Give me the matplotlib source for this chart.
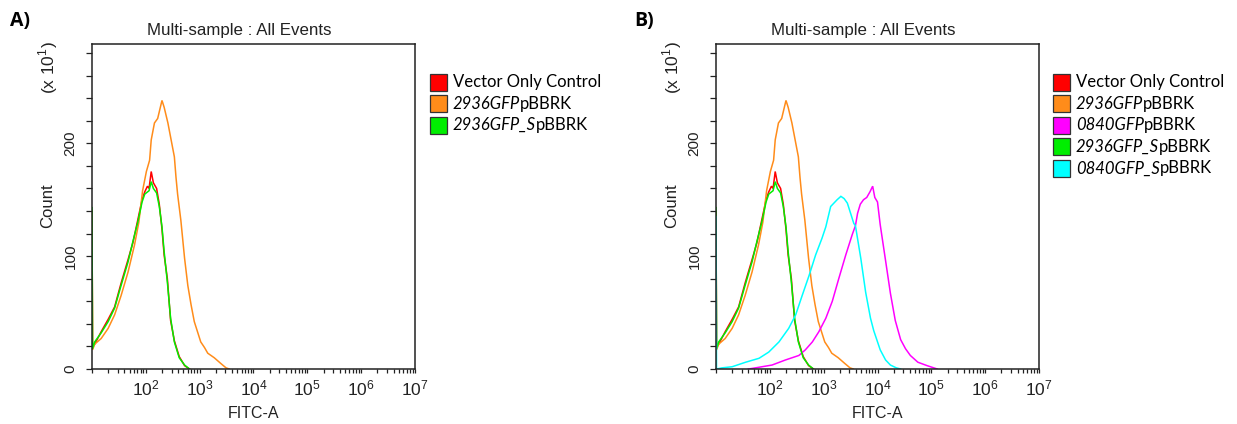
import numpy as np
import matplotlib
matplotlib.use("Agg")
import matplotlib.pyplot as plt
from matplotlib.ticker import FixedLocator, FuncFormatter
from matplotlib.patches import Rectangle

# ---- histogram data: log10(FITC-A) channel position and count (x10) ----
vector_logx = [1.0, 1.01, 1.05, 1.17, 1.30, 1.42, 1.54, 1.67, 1.76, 1.85, 1.93, 1.98,
               2.03, 2.06, 2.10, 2.14, 2.20, 2.25, 2.30, 2.34, 2.40, 2.46, 2.53,
               2.62, 2.72, 2.81]
vector_count = [140, 19, 22, 33, 44, 55, 76, 97, 112, 132, 150, 157,
                162, 160, 175, 165, 160, 146, 124, 101, 80, 43, 25,
                11, 3, 0]

p2936_logx = [1.0, 1.01, 1.05, 1.17, 1.30, 1.42, 1.54, 1.67, 1.79, 1.87, 1.94, 2.01,
              2.07, 2.10, 2.16, 2.22, 2.26, 2.30, 2.34, 2.41, 2.47, 2.53, 2.56,
              2.59, 2.65, 2.72, 2.78, 2.84, 2.90, 2.96, 3.02, 3.09, 3.15, 3.27,
              3.39, 3.49, 3.55]
p2936_count = [138, 17, 22, 27, 36, 48, 65, 86, 110, 130, 158, 175,
               185, 203, 218, 222, 230, 238, 232, 218, 203, 188, 170,
               155, 132, 98, 74, 57, 42, 33, 24, 19, 14, 10,
               5, 1, 0]

p0840_logx = [1.60, 1.67, 2.04, 2.29, 2.54, 2.66, 2.79, 2.91, 3.04, 3.16, 3.28, 3.41,
              3.53, 3.59, 3.63, 3.68, 3.74, 3.80, 3.86, 3.91, 3.95, 4.00, 4.05,
              4.15, 4.24, 4.33, 4.43, 4.52, 4.61, 4.75, 4.92, 5.11]
p0840_count = [0, 0.5, 3.5, 8, 12, 17, 24, 33, 45, 60, 80, 101,
               119, 127, 138, 146, 150, 152, 157, 162, 152, 148, 128,
               96, 67, 43, 26, 18, 12, 6, 3, 0]

s2936_logx = [1.0, 1.01, 1.05, 1.17, 1.30, 1.42, 1.54, 1.67, 1.76, 1.85, 1.93, 1.98,
              2.06, 2.10, 2.14, 2.20, 2.25, 2.30, 2.34, 2.40, 2.46, 2.53, 2.62,
              2.72, 2.81]
s2936_count = [143, 18, 24, 32, 42, 54, 74, 95, 113, 130, 148, 155,
               158, 166, 160, 156, 144, 126, 104, 77, 45, 24, 10,
               3.5, 0]

s0840_logx = [1.0, 1.01, 1.11, 1.30, 1.55, 1.80, 1.98, 2.17, 2.35, 2.48, 2.60, 2.73,
              2.85, 2.97, 3.04, 3.13, 3.25, 3.32, 3.38, 3.44, 3.50, 3.56, 3.59,
              3.69, 3.78, 3.87, 3.93, 4.05, 4.15, 4.24, 4.35, 4.43]
s0840_count = [135, 0, 1, 2, 6, 9.5, 15, 24, 36, 48, 65, 83,
               101, 116, 126, 144, 150, 153, 151, 147, 138, 129, 127,
               98, 68, 45, 34, 17, 8, 3.5, 1, 0]

# legend entries: (italic part, regular part)
names = {
    "vector": ("", "Vector Only Control"),
    "p2936": ("2936GFP", "pBBRK"),
    "p0840": ("0840GFP", "pBBRK"),
    "s2936": ("2936GFP_S", "pBBRK"),
    "s0840": ("0840GFP_S", "pBBRK"),
}
colors = {
    "vector": "#ff0000",
    "p2936": "#ff8c1a",
    "p0840": "#ff00ff",
    "s2936": "#00ee00",
    "s0840": "#00ffff",
}
series = {
    "vector": (vector_logx, vector_count),
    "p2936": (p2936_logx, p2936_count),
    "p0840": (p0840_logx, p0840_count),
    "s2936": (s2936_logx, s2936_count),
    "s0840": (s0840_logx, s0840_count),
}

y_major = [0, 100, 200]
y_minor = list(range(0, 281, 20))
x_decades = [1, 2, 3, 4, 5, 6, 7]

W, H = 1237, 424
fig = plt.figure(figsize=(W / 100, H / 100), dpi=100)
AXFONT = "Liberation Sans"
LEGFONT = "Lato"
plt.rcParams["font.family"] = AXFONT
TXT = "#222222"


def fx(px):
    return px / W


def fy(py):
    return 1 - py / H


def decade_label(v, pos):
    e = int(round(np.log10(v)))
    if e <= 1:
        return ""
    return r"$\mathdefault{10^{%d}}$" % e


def keys_legend_order(keys):
    order = ["vector", "p2936", "p0840", "s2936", "s0840"]
    return [k for k in order if k in keys]


def make_panel(left_px, keys, letter, legend_x):
    right_px = left_px + 323
    top_px, bot_px = 44, 369
    ax = fig.add_axes([fx(left_px), fy(bot_px), fx(right_px - left_px),
                       (bot_px - top_px) / H])
    for k in keys:
        lx, c = series[k]
        ax.plot(10 ** np.asarray(lx), c, color=colors[k], lw=1.1,
                solid_joinstyle="miter")
    ax.set_xscale("log")
    ax.set_xlim(10 ** 1, 10 ** 7)
    ax.set_ylim(0, 288)

    ax.xaxis.set_major_locator(FixedLocator([10.0 ** d for d in x_decades]))
    minors = [m * 10.0 ** d for d in x_decades[:-1] for m in range(2, 10)]
    ax.xaxis.set_minor_locator(FixedLocator(minors))
    ax.xaxis.set_major_formatter(FuncFormatter(decade_label))
    ax.yaxis.set_major_locator(FixedLocator(y_major))
    ax.yaxis.set_minor_locator(FixedLocator(y_minor))

    ax.tick_params(axis="x", which="both", direction="out", length=3.2,
                   width=0.9, color=TXT, pad=4, labelsize=12.5,
                   labelcolor=TXT)
    ax.tick_params(axis="y", which="both", direction="out", length=4.5,
                   width=0.9, color=TXT, pad=6, labelsize=11,
                   labelcolor=TXT)
    for lab in ax.get_yticklabels():
        lab.set_rotation(90)
        lab.set_va("center")
    for sp in ax.spines.values():
        sp.set_linewidth(1.1)
        sp.set_color(TXT)

    cx = (left_px + right_px) / 2
    fig.text(fx(cx - 14), fy(31), "Multi-sample : All Events", ha="center",
             va="center", fontsize=12.2, color=TXT)
    fig.text(fx(cx), fy(413), "FITC-A", ha="center", va="center",
             fontsize=11.5, color=TXT)
    fig.text(fx(left_px - 44), fy(206), "Count", ha="center", va="center",
             rotation=90, fontsize=12, color=TXT)
    fig.text(fx(left_px - 44), fy(68), r"(x 10$^{\mathdefault{1}}$)",
             ha="center", va="center", rotation=90, fontsize=12.5, color=TXT)
    fig.text(fx(left_px - 82), fy(21), letter, ha="left", va="center",
             fontsize=14, fontweight="bold", family="Open Sans")

    # legend drawn as colour boxes with mixed italic / regular labels
    renderer = fig.canvas.get_renderer()
    row_y = 82
    for k in keys_legend_order(keys):
        fig.patches.append(Rectangle((fx(legend_x), fy(row_y + 8.5)),
                                     fx(17), 17 / H, transform=fig.transFigure,
                                     facecolor=colors[k], edgecolor="#333333",
                                     lw=0.9))
        it, rg = names[k]
        tx = legend_x + 23
        if it:
            t = fig.text(fx(tx), fy(row_y), it, ha="left", va="center",
                         fontsize=12, family=LEGFONT, style="italic")
            tx += t.get_window_extent(renderer).width
        fig.text(fx(tx), fy(row_y), rg, ha="left", va="center",
                 fontsize=12, family=LEGFONT)
        row_y += 21.6
    return ax


make_panel(92, ["vector", "p2936", "s2936"], "A)", 430)
make_panel(716, ["vector", "p2936", "p0840", "s2936", "s0840"], "B)", 1053)

fig.savefig("out.png", dpi=100)
